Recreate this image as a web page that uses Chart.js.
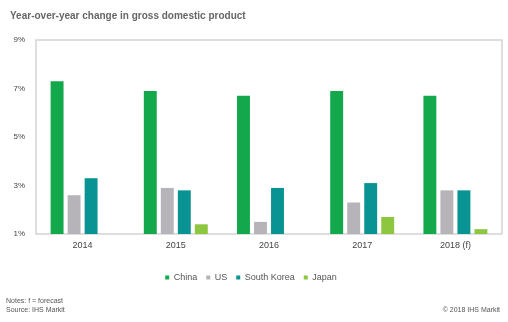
<!DOCTYPE html>
<html>
<head>
<meta charset="utf-8">
<script src="https://cdn.jsdelivr.net/npm/chart.js@4"></script>
<style>
  body { margin: 0; background: #fff; font-family: 'Liberation Sans', Arial, sans-serif; }
  #wrap { position: relative; width: 508px; height: 322px; }
  #box { position: absolute; left: 0; top: 0; width: 508px; height: 322px; }
  .title { position: absolute; left: 10px; top: 10px; font-size: 10px; font-weight: bold; color: #666; }
  .note { position: absolute; font-size: 7px; color: #555; line-height: 9px; }
</style>
</head>
<body>
<div id="wrap">
  <div id="box"><canvas id="myChart"></canvas></div>
  <div class="title">Year-over-year change in gross domestic product</div>
  <div class="note" style="left:6px; top:296px;">Notes: f = forecast<br>Source: IHS Markit</div>
  <div class="note" style="right:8px; top:305px;">© 2018 IHS Markit</div>
</div>
<script>
const years = ['2014', '2015', '2016', '2017', '2018 (f)'];
const china = [7.3, 6.9, 6.7, 6.9, 6.7];
const us = [2.6, 2.9, 1.5, 2.3, 2.8];
const southKorea = [3.3, 2.8, 2.9, 3.1, 2.8];
const japan = [null, 1.4, null, 1.7, 1.2];
const yTicks = [1, 3, 5, 7, 9];

// light grey box round the plot area
const frame = {
  id: 'frame',
  beforeDatasetsDraw(chart) {
    const a = chart.chartArea, ctx = chart.ctx;
    ctx.save();
    ctx.strokeStyle = '#d4d4d4';
    ctx.lineWidth = 1.5;
    ctx.strokeRect(a.left, a.top, a.right - a.left, a.bottom - a.top);
    ctx.restore();
  }
};

const bar = (label, values, color) => ({
  label: label,
  data: values,
  backgroundColor: color,
  categoryPercentage: 0.73,
  barPercentage: 0.76,
  base: 1,
});

const config = {
  type: 'bar',
  data: {
    labels: years,
    datasets: [
      bar('China', china, '#12a84b'),
      bar('US', us, '#b6b4b9'),
      bar('South Korea', southKorea, '#0a9393'),
      bar('Japan', japan, '#8dc63f'),
    ],
  },
  plugins: [frame],
  options: {
    responsive: false,
    animation: false,
    layout: { padding: { top: 40, right: 6, left: 0, bottom: 30 } },
    scales: {
      x: {
        grid: { display: false, drawTicks: false },
        border: { display: false },
        ticks: {
          color: '#444',
          padding: 6,
          font: { family: 'Liberation Sans', size: 9 },
        },
        afterFit(scale) { scale.height = 30; },
      },
      y: {
        min: 1,
        max: 9,
        afterBuildTicks(scale) { scale.ticks = yTicks.map(v => ({ value: v })); },
        grid: { display: false, drawTicks: false },
        border: { display: false },
        ticks: {
          color: '#444',
          padding: 11,
          font: { family: 'Liberation Sans', size: 8 },
          callback: v => v + '%',
        },
        afterFit(scale) { scale.width = 36; },
      },
    },
    plugins: {
      legend: {
        position: 'bottom',
        labels: {
          usePointStyle: true,
          pointStyle: 'rect',
          boxWidth: 4,
          boxHeight: 4,
          padding: 9,
          color: '#555',
          font: { family: 'Liberation Sans', size: 9 },
        },
      },
      tooltip: { enabled: false },
    },
  },
};

const chartEl = document.getElementById('myChart');
chartEl.width = 508;
chartEl.height = 322;
new Chart(chartEl, config);
</script>
</body>
</html>
